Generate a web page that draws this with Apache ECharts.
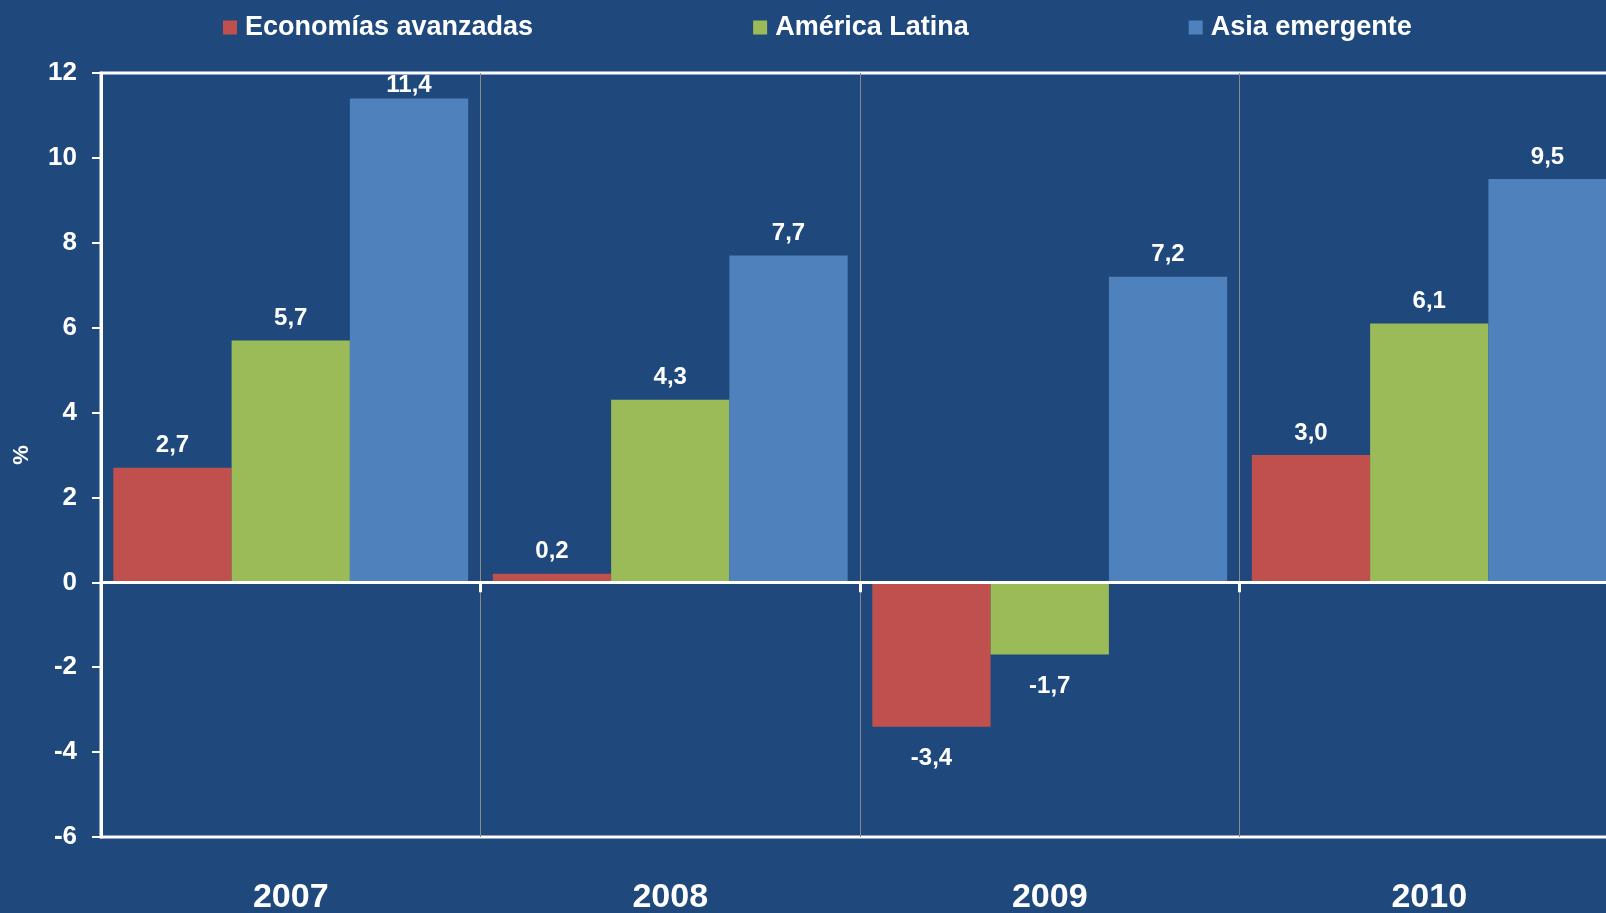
<!DOCTYPE html>
<html>
<head>
<meta charset="utf-8">
<title>Crecimiento del PIB</title>
<script src="https://cdn.jsdelivr.net/npm/echarts@6/dist/echarts.min.js"></script>
<style>
  html, body { margin: 0; padding: 0; background: #1F497D; }
  #chart { width: 1606px; height: 913px; }
</style>
</head>
<body>
<div id="chart"></div>
<script>
// Años y crecimiento (%) por región
const years = ['2007', '2008', '2009', '2010'];
const avanzadas = [2.7, 0.2, -3.4, 3.0];
const latina = [5.7, 4.3, -1.7, 6.1];
const asia = [11.4, 7.7, 7.2, 9.5];
const seriesNames = ['Economías avanzadas', 'América Latina', 'Asia emergente'];
const seriesColors = ['#C0504D', '#9BBB59', '#4F81BD'];
const yTicks = { min: -6, max: 12, step: 2 };

const FONT = '"Liberation Sans", Arial, sans-serif';
const fmt = v => v.toFixed(1).replace('.', ',');

// Plot box (px)
const GRID = { left: 101, top: 73, right: -13, bottom: 76 };
const PLOT_H = 913 - GRID.top - GRID.bottom;
const PX_PER_UNIT = PLOT_H / (yTicks.max - yTicks.min);
const LABEL_SIZE = 24;

// Negative bars carry their label below the bar end; labels near the
// top border are pulled down so they stay inside the plot box.
function withLabels(values) {
  return values.map(v => {
    if (v < 0) {
      return { value: v, label: { position: 'bottom', distance: 20 } };
    }
    const room = (yTicks.max - v) * PX_PER_UNIT - LABEL_SIZE;
    return { value: v, label: { position: 'top', distance: Math.max(1, Math.min(10, room)) } };
  });
}

function barSeries(name, values, color) {
  return {
    name: name,
    type: 'bar',
    xAxisIndex: 0,
    data: withLabels(values),
    barGap: '0%',
    barCategoryGap: '6.5%',
    itemStyle: { color: color },
    label: {
      show: true,
      color: '#FFFFFF',
      fontFamily: FONT,
      fontWeight: 'bold',
      fontSize: LABEL_SIZE,
      formatter: p => fmt(p.value)
    }
  };
}

const chart = echarts.init(document.getElementById('chart'));
chart.setOption({
  backgroundColor: '#1F497D',
  animation: false,
  legend: {
    top: 14,
    left: 223,
    padding: 0,
    itemGap: 220,
    itemWidth: 14,
    itemHeight: 14,
    icon: 'rect',
    data: seriesNames,
    textStyle: {
      color: '#FFFFFF',
      fontFamily: FONT,
      fontWeight: 'bold',
      fontSize: 27,
      padding: [0, 0, 0, 3]
    }
  },
  grid: {
    left: GRID.left,
    top: GRID.top,
    right: GRID.right,
    bottom: GRID.bottom,
    containLabel: false,
    outerBoundsMode: 'none',
    show: true,
    borderColor: '#FFFFFF',
    borderWidth: 3,
    backgroundColor: 'transparent'
  },
  xAxis: [
    {
      // axis through zero with separators between years
      type: 'category',
      data: years,
      position: 'bottom',
      z: 5,
      axisLine: { show: true, onZero: true, lineStyle: { color: '#FFFFFF', width: 3 } },
      axisTick: { show: true, length: 10, interval: 0, lineStyle: { color: '#FFFFFF', width: 3 } },
      axisLabel: { show: false },
      splitLine: { show: true, interval: 0, lineStyle: { color: '#8A8A8A', width: 1 } }
    },
    {
      // year labels along the bottom edge
      type: 'category',
      data: years,
      position: 'bottom',
      axisLine: { show: false, onZero: false },
      axisTick: { show: false },
      splitLine: { show: false },
      axisLabel: {
        show: true,
        interval: 0,
        margin: 44,
        color: '#FFFFFF',
        fontFamily: FONT,
        fontWeight: 'bold',
        fontSize: 34
      }
    }
  ],
  yAxis: {
    type: 'value',
    min: yTicks.min,
    max: yTicks.max,
    interval: yTicks.step,
    z: 6,
    name: '%',
    nameLocation: 'middle',
    nameRotate: 90,
    nameGap: 68,
    nameTextStyle: {
      color: '#FFFFFF',
      fontFamily: FONT,
      fontWeight: 'bold',
      fontSize: 22
    },
    axisLine: { show: true, onZero: false, lineStyle: { color: '#FFFFFF', width: 3 } },
    axisTick: { show: true, length: 9, lineStyle: { color: '#FFFFFF', width: 2 } },
    splitLine: { show: false },
    axisLabel: {
      margin: 24,
      color: '#FFFFFF',
      fontFamily: FONT,
      fontWeight: 'bold',
      fontSize: 26
    }
  },
  series: [
    barSeries(seriesNames[0], avanzadas, seriesColors[0]),
    barSeries(seriesNames[1], latina, seriesColors[1]),
    barSeries(seriesNames[2], asia, seriesColors[2])
  ]
});
</script>
</body>
</html>
